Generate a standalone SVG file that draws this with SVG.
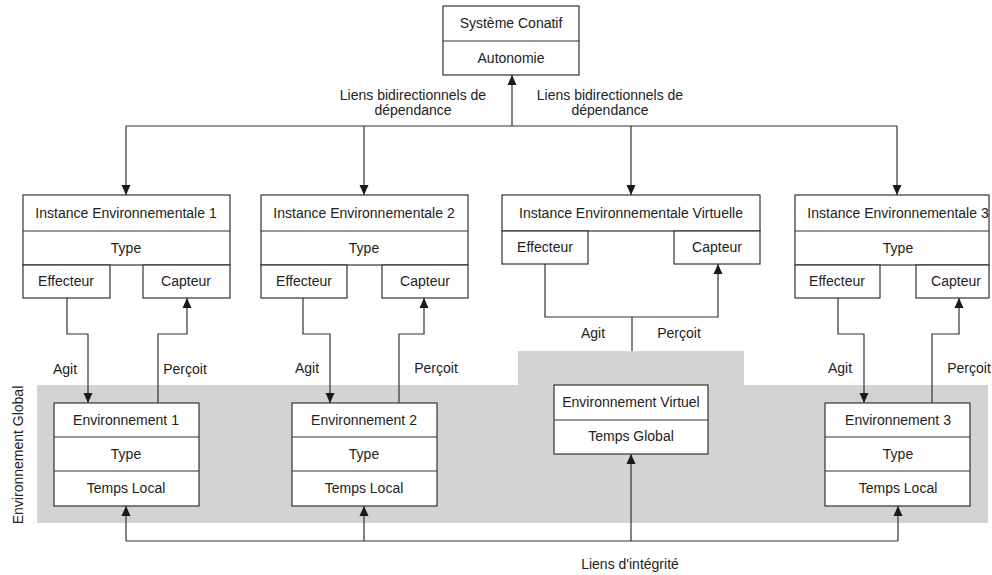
<svg xmlns="http://www.w3.org/2000/svg" width="992" height="575" viewBox="0 0 992 575">
<defs>
<marker id="ah" markerUnits="userSpaceOnUse" markerWidth="10" markerHeight="10" viewBox="0 0 10 10" refX="10" refY="5" orient="auto">
<path d="M0,0.5 L10,5 L0,9.5 z" fill="#1a1a1a"/>
</marker>
</defs>
<style>
.b{fill:#fff;stroke:#333;stroke-width:1.2}
.l{fill:none;stroke:#333;stroke-width:1.2}
.c{fill:none;stroke:#333;stroke-width:1.2;marker-end:url(#ah)}
text{font-family:"Liberation Sans",Arial,sans-serif;font-size:14px;fill:#222}
.m{text-anchor:middle}
</style>
<rect width="992" height="575" fill="#fff"/>
<path d="M37,385 H518 V351 H744 V385 H988 V523 H37 Z" fill="#d1d3d4"/>
<text class="m" transform="translate(23,455) rotate(-90)">Environnement Global</text>

<g id="connectors">
<path class="c" d="M512,126 V75"/>
<path class="l" d="M126,126 H897"/>
<path class="c" d="M126,126 V195"/>
<path class="c" d="M364,126 V195"/>
<path class="c" d="M631,126 V195"/>
<path class="c" d="M897,126 V195"/>
<path class="c" d="M67,298 V334 H88 V403"/>
<path class="c" d="M158,403 V334 H187 V298"/>
<path class="c" d="M303,298 V334 H330 V403"/>
<path class="c" d="M399,403 V334 H424 V298"/>
<path class="c" d="M545,264 V317 H718 V264"/>
<path class="l" d="M632,317 V351"/>
<path class="c" d="M838,298 V334 H864 V403"/>
<path class="c" d="M932,403 V334 H959 V298"/>
<path class="l" d="M126,541 H898"/>
<path class="c" d="M126,541 V506"/>
<path class="c" d="M364,541 V506"/>
<path class="c" d="M631,541 V454"/>
<path class="c" d="M898,541 V506"/>
<text class="m" x="413" y="100">Liens bidirectionnels de</text>
<text class="m" x="413" y="115">dépendance</text>
<text class="m" x="610" y="100">Liens bidirectionnels de</text>
<text class="m" x="610" y="115">dépendance</text>
<text class="m" x="65" y="374">Agit</text>
<text class="m" x="185" y="374">Perçoit</text>
<text class="m" x="307" y="373">Agit</text>
<text class="m" x="436" y="373">Perçoit</text>
<text class="m" x="593" y="338">Agit</text>
<text class="m" x="679" y="338">Perçoit</text>
<text class="m" x="840" y="373">Agit</text>
<text class="m" x="969" y="373">Perçoit</text>
<text class="m" x="630" y="569">Liens d'intégrité</text>
</g>

<g id="systeme">
<rect class="b" x="443" y="6" width="136" height="69"/>
<path class="l" d="M443,41 H579"/>
<text class="m" x="511" y="28">Système Conatif</text>
<text class="m" x="511" y="63">Autonomie</text>
</g>

<g id="instance1">
<rect class="b" x="23" y="195" width="207" height="70"/>
<path class="l" d="M23,231 H230"/>
<rect class="b" x="23" y="265" width="87" height="33"/>
<rect class="b" x="143" y="265" width="87" height="33"/>
<text class="m" x="126" y="218">Instance Environnementale 1</text>
<text class="m" x="126" y="253">Type</text>
<text class="m" x="66" y="286">Effecteur</text>
<text class="m" x="186" y="286">Capteur</text>
</g>

<g id="instance2">
<rect class="b" x="261" y="195" width="207" height="70"/>
<path class="l" d="M261,231 H468"/>
<rect class="b" x="261" y="265" width="86" height="33"/>
<rect class="b" x="382" y="265" width="86" height="33"/>
<text class="m" x="364" y="218">Instance Environnementale 2</text>
<text class="m" x="364" y="253">Type</text>
<text class="m" x="304" y="286">Effecteur</text>
<text class="m" x="425" y="286">Capteur</text>
</g>

<g id="instanceV">
<rect class="b" x="502" y="195" width="258" height="36"/>
<rect class="b" x="502" y="231" width="86" height="33"/>
<rect class="b" x="674" y="231" width="86" height="33"/>
<text class="m" x="631" y="218">Instance Environnementale Virtuelle</text>
<text class="m" x="545" y="252">Effecteur</text>
<text class="m" x="717" y="252">Capteur</text>
</g>

<g id="instance3">
<rect class="b" x="795" y="195" width="194" height="70"/>
<path class="l" d="M795,231 H989"/>
<rect class="b" x="795" y="265" width="85" height="33"/>
<rect class="b" x="916" y="265" width="73" height="33"/>
<text class="m" x="898" y="218">Instance Environnementale 3</text>
<text class="m" x="898" y="253">Type</text>
<text class="m" x="837" y="286">Effecteur</text>
<text class="m" x="956" y="286">Capteur</text>
</g>

<g id="env1">
<rect class="b" x="54" y="403" width="145" height="103"/>
<path class="l" d="M54,437 H199 M54,471 H199"/>
<text class="m" x="126" y="425">Environnement 1</text>
<text class="m" x="126" y="459">Type</text>
<text class="m" x="126" y="493">Temps Local</text>
</g>

<g id="env2">
<rect class="b" x="292" y="403" width="145" height="103"/>
<path class="l" d="M292,437 H437 M292,471 H437"/>
<text class="m" x="364" y="425">Environnement 2</text>
<text class="m" x="364" y="459">Type</text>
<text class="m" x="364" y="493">Temps Local</text>
</g>

<g id="envV">
<rect class="b" x="554" y="385" width="154" height="69"/>
<path class="l" d="M554,420 H708"/>
<text class="m" x="631" y="407">Environnement Virtuel</text>
<text class="m" x="631" y="441">Temps Global</text>
</g>

<g id="env3">
<rect class="b" x="825" y="403" width="145" height="103"/>
<path class="l" d="M825,437 H970 M825,471 H970"/>
<text class="m" x="898" y="425">Environnement 3</text>
<text class="m" x="898" y="459">Type</text>
<text class="m" x="898" y="493">Temps Local</text>
</g>
</svg>
